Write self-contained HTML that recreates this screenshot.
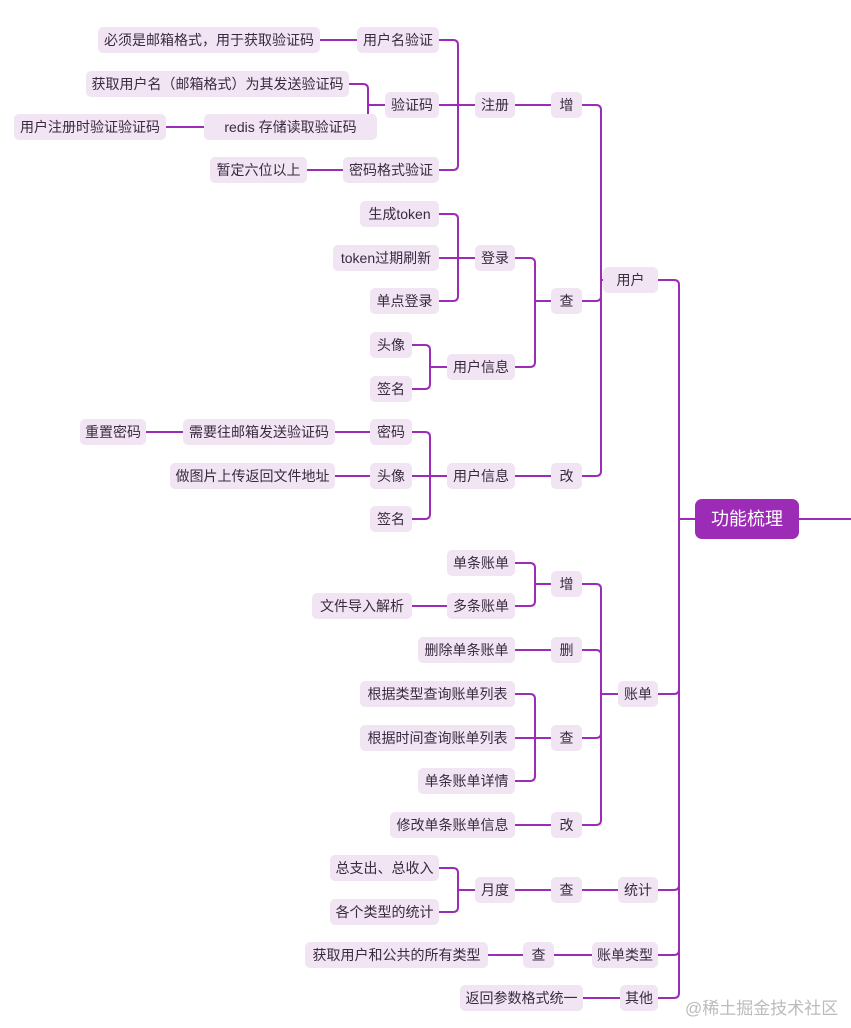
<!DOCTYPE html>
<html><head><meta charset="utf-8"><style>
html,body{margin:0;padding:0;background:#fff;width:851px;height:1028px;overflow:hidden;position:relative}
.n{position:absolute;height:26px;display:flex;align-items:center;justify-content:center;background:#f1e4f3;border-radius:5px;font:14px/1 "Liberation Sans","Noto Sans CJK SC",sans-serif;color:#3a2a40;white-space:nowrap}
.root{position:absolute;left:695px;top:499px;width:104px;height:40px;display:flex;align-items:center;justify-content:center;background:#9c2cb5;color:#fff;border-radius:7px;font:18px/1 "Liberation Sans","Noto Sans CJK SC",sans-serif}
svg{position:absolute;left:0;top:0}
.wm{position:absolute;left:685px;top:1000px;font:17px/1 "Liberation Sans","Noto Sans CJK SC",sans-serif;color:#bbb}
</style></head><body>
<svg id="s" width="851" height="1028"></svg>
<div class="root">功能梳理</div>
<div id="c"></div>
<div class="wm">@稀土掘金技术社区</div>
<script>
var N={
a1:[98,320,40,'必须是邮箱格式，用于获取验证码'],
a2:[357,439,40,'用户名验证'],
a3:[86,349,84,'获取用户名（邮箱格式）为其发送验证码'],
a4:[385,439,105,'验证码'],
a5:[204,377,127,'redis 存储读取验证码'],
a6:[14,166,127,'用户注册时验证验证码'],
a7:[210,307,170,'暂定六位以上'],
a8:[343,439,170,'密码格式验证'],
zc:[475,515,105,'注册'],
z:[551,582,105,'增'],
b1:[360,439,214,'生成token'],
b2:[333,439,258,'token过期刷新'],
b3:[370,439,301,'单点登录'],
dl:[475,515,258,'登录'],
c:[551,582,301,'查'],
b4:[370,412,345,'头像'],
b5:[370,412,389,'签名'],
xx:[447,515,367,'用户信息'],
yh:[603,658,280,'用户'],
d1:[80,146,432,'重置密码'],
d2:[183,335,432,'需要往邮箱发送验证码'],
d3:[370,412,432,'密码'],
d4:[170,335,476,'做图片上传返回文件地址'],
d5:[370,412,476,'头像'],
d6:[370,412,519,'签名'],
xx2:[447,515,476,'用户信息'],
g:[551,582,476,'改'],
e1:[447,515,563,'单条账单'],
e2:[447,515,606,'多条账单'],
e3:[312,412,606,'文件导入解析'],
z2:[551,582,584,'增'],
e4:[418,515,650,'删除单条账单'],
s2:[551,582,650,'删'],
e5:[360,515,694,'根据类型查询账单列表'],
e6:[360,515,738,'根据时间查询账单列表'],
e7:[418,515,781,'单条账单详情'],
c2:[551,582,738,'查'],
e8:[390,515,825,'修改单条账单信息'],
g2:[551,582,825,'改'],
zd:[618,658,694,'账单'],
f1:[330,439,868,'总支出、总收入'],
f2:[330,439,912,'各个类型的统计'],
yd:[475,515,890,'月度'],
c3:[551,582,890,'查'],
tj:[618,658,890,'统计'],
h1:[305,488,955,'获取用户和公共的所有类型'],
c4:[523,554,955,'查'],
lx:[592,658,955,'账单类型'],
i1:[460,583,998,'返回参数格式统一'],
qt:[620,658,998,'其他'],
R:[695,799,519,'']
};
var E=[
['a2',['a1']],['a4',['a3','a5'],368],['a5',['a6']],['a8',['a7']],
['zc',['a2','a4','a8'],458],['z',['zc']],
['dl',['b1','b2','b3'],458],['xx',['b4','b5'],430],['c',['dl','xx'],535],
['d3',['d2']],['d2',['d1']],['d5',['d4']],['xx2',['d3','d5','d6'],430],['g',['xx2']],
['yh',['z','c','g'],601],
['e2',['e3']],['z2',['e1','e2'],535],['s2',['e4']],['c2',['e5','e6','e7'],535],['g2',['e8']],
['zd',['z2','s2','c2','g2'],601],
['yd',['f1','f2'],458],['c3',['yd']],['tj',['c3']],
['c4',['h1']],['lx',['c4']],['qt',['i1']],
['R',['yh','zd','tj','lx','qt'],679]
];
var p='';
E.forEach(function(e){var P=N[e[0]],py=P[2],pl=P[0];
e[1].forEach(function(k){var C=N[k],cy=C[2],cr=C[1];
var ex=e[2]||((cr+pl)/2);
if(Math.abs(cy-py)<1){p+='<path d="M'+cr+' '+cy+'H'+pl+'"/>';}
else{var r=5,sg=cy>py?1:-1;
p+='<path d="M'+cr+' '+cy+'H'+(ex-r)+'Q'+ex+' '+cy+' '+ex+' '+(cy-sg*r)+'V'+py+'H'+pl+'"/>';}
});});
p+='<path d="M799 519H851"/>';
document.getElementById('s').innerHTML='<g fill="none" stroke="#9c2cb5" stroke-width="2">'+p+'</g>';
var h='';
for(var k in N){if(k=='R')continue;var n=N[k];
h+='<div class="n" style="left:'+n[0]+'px;top:'+(n[2]-13)+'px;width:'+(n[1]-n[0])+'px">'+n[3]+'</div>';}
document.getElementById('c').innerHTML=h;
</script>
</body></html>
